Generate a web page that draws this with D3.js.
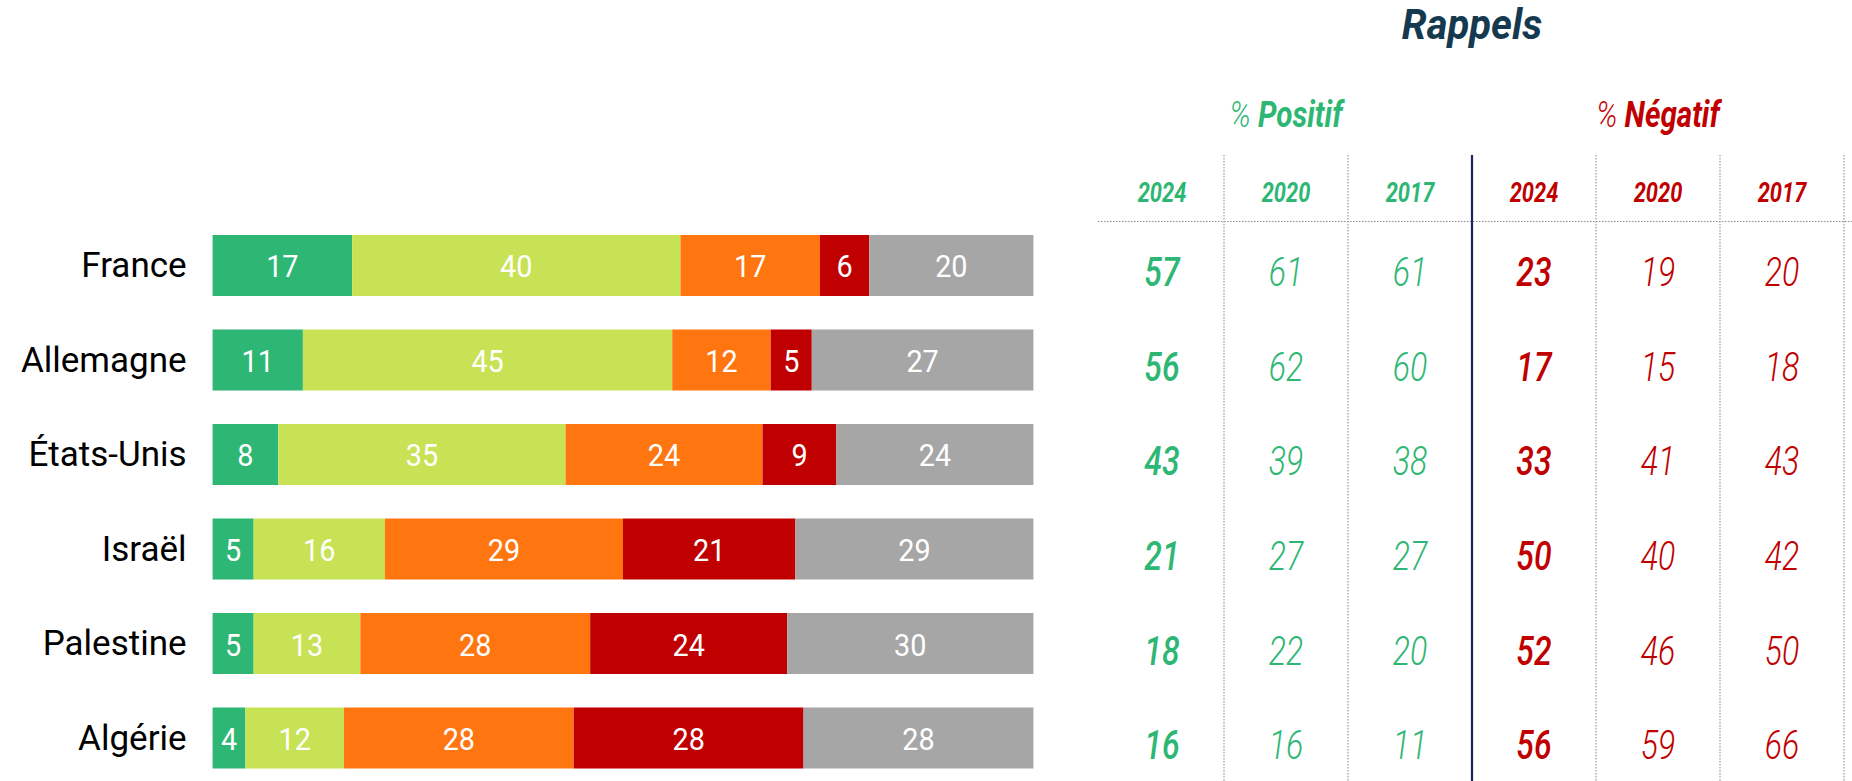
<!DOCTYPE html>
<html lang="fr">
<head>
<meta charset="utf-8">
<script src="https://cdn.jsdelivr.net/npm/d3@7"></script>
<style>
  html, body { margin: 0; padding: 0; background: #ffffff; }
  svg { display: block; }
  .tbl { font-family: Roboto, 'Noto Sans', sans-serif; font-style: italic; }
</style>
</head>
<body>
<svg id="chart" width="1852" height="781"></svg>
<script>
// Pays affichés
const categories = ["France", "Allemagne", "États-Unis", "Israël", "Palestine", "Algérie"];

// Répartition des opinions (en %)
const tresPositif   = [17, 11, 8, 5, 5, 4];
const plutotPositif = [40, 45, 35, 16, 13, 12];
const plutotNegatif = [17, 12, 24, 29, 28, 28];
const tresNegatif   = [6, 5, 9, 21, 24, 28];
const nsp           = [20, 27, 24, 29, 30, 28];

// Rappels : % positif et % négatif par vague
const years = ["2024", "2020", "2017"];
const positif2024 = [57, 56, 43, 21, 18, 16];
const positif2020 = [61, 62, 39, 27, 22, 16];
const positif2017 = [61, 60, 38, 27, 20, 11];
const negatif2024 = [23, 17, 33, 50, 52, 56];
const negatif2020 = [19, 15, 41, 40, 46, 59];
const negatif2017 = [20, 18, 43, 42, 50, 66];

const seriesKeys = ["tresPositif", "plutotPositif", "plutotNegatif", "tresNegatif", "nsp"];
const seriesColors = ["#2eb774", "#c8e256", "#ff7510", "#c00000", "#a6a6a6"];
const GREEN = "#2eb774", RED = "#c00000", NAVY = "#153a50";

const rows = categories.map((c, i) => ({
  pays: c,
  tresPositif: tresPositif[i],
  plutotPositif: plutotPositif[i],
  plutotNegatif: plutotNegatif[i],
  tresNegatif: tresNegatif[i],
  nsp: nsp[i]
}));

const svg = d3.select("#chart");

const x = d3.scaleLinear().domain([0, 100]).range([212.6, 1033.4]);
const y = d3.scaleBand().domain(categories).range([235, 768.5]).paddingInner(0.3545).paddingOuter(0);
const color = d3.scaleOrdinal().domain(seriesKeys).range(seriesColors);

const stacked = d3.stack().keys(seriesKeys)(rows);

const layers = svg.append("g").selectAll("g")
  .data(stacked)
  .join("g")
  .attr("fill", d => color(d.key));

layers.selectAll("rect")
  .data(d => d)
  .join("rect")
  .attr("x", d => x(d[0]))
  .attr("y", d => y(d.data.pays))
  .attr("width", d => x(d[1]) - x(d[0]))
  .attr("height", y.bandwidth());

// Valeurs dans les segments (police légèrement resserrée)
layers.selectAll("g.lbl")
  .data(d => d)
  .join("g")
  .attr("class", "lbl")
  .attr("transform", d => `translate(${(x(d[0]) + x(d[1])) / 2},${y(d.data.pays) + y.bandwidth() / 2 + 12}) scale(0.9,1)`)
  .append("text")
  .attr("text-anchor", "middle")
  .attr("fill", "#ffffff")
  .style("font-family", "Roboto, sans-serif")
  .style("font-size", "32px")
  .text(d => d[1] - d[0]);

// Axe des pays (sans trait)
const yAxis = svg.append("g")
  .attr("transform", `translate(${x(0) - 26},0)`)
  .call(d3.axisLeft(y).tickSize(0).tickPadding(0));
yAxis.select(".domain").remove();
yAxis.selectAll("text")
  .attr("fill", "#000000")
  .attr("dy", "0.34em")
  .style("font-family", "Roboto, sans-serif")
  .style("font-weight", "400")
  .style("font-size", "35px");

// Tableau des rappels
const cols = [
  { key: "p2024", values: positif2024, year: years[0], color: GREEN, strong: true },
  { key: "p2020", values: positif2020, year: years[1], color: GREEN, strong: false },
  { key: "p2017", values: positif2017, year: years[2], color: GREEN, strong: false },
  { key: "n2024", values: negatif2024, year: years[0], color: RED, strong: true },
  { key: "n2020", values: negatif2020, year: years[1], color: RED, strong: false },
  { key: "n2017", values: negatif2017, year: years[2], color: RED, strong: false }
];
const cx = d3.scaleBand().domain(cols.map(c => c.key)).range([1100, 1844]);
const table = svg.append("g");

// Texte condensé : groupe positionné puis compressé horizontalement
function condText(parent, px, py, sx) {
  return parent.append("g")
    .attr("transform", `translate(${px},${py}) scale(${sx},1)`)
    .append("text")
    .attr("class", "tbl")
    .attr("text-anchor", "middle");
}

// Grille
table.append("line")
  .attr("x1", 1098).attr("x2", 1852)
  .attr("y1", 221.5).attr("y2", 221.5)
  .attr("stroke", "#8c8c8c").attr("stroke-width", 1.2).attr("stroke-dasharray", "1.5,1.5");

cols.forEach((c, i) => {
  const xr = cx(c.key) + cx.bandwidth();
  const solid = i === 2;
  table.append("line")
    .attr("x1", xr).attr("x2", xr)
    .attr("y1", 155).attr("y2", 781)
    .attr("stroke", solid ? "#1b2460" : "#9a9a9a")
    .attr("stroke-width", solid ? 2.2 : 1.2)
    .attr("stroke-dasharray", solid ? null : "1.5,1.5");
});

// Titres
condText(table, cx("n2024"), 39, 0.93)
  .attr("fill", NAVY)
  .style("font-size", "43px").style("font-weight", "700")
  .text("Rappels");

const groups = [
  { label: ["%", "Positif"], from: "p2024", to: "p2017", color: GREEN },
  { label: ["%", "Négatif"], from: "n2024", to: "n2017", color: RED }
];
groups.forEach(g => {
  const gx = (cx(g.from) + cx(g.to) + cx.bandwidth()) / 2;
  const t = condText(table, gx, 127, 0.8)
    .attr("fill", g.color)
    .style("font-size", "37px");
  t.append("tspan").style("font-weight", "300").text(g.label[0] + " ");
  t.append("tspan").style("font-weight", "700").text(g.label[1]);
});

cols.forEach(c => {
  const mid = cx(c.key) + cx.bandwidth() / 2;
  condText(table, mid, 201.5, 0.78)
    .attr("fill", c.color)
    .style("font-size", "28px").style("font-weight", "700")
    .text(c.year);

  c.values.forEach((v, i) => {
    condText(table, mid, y(categories[i]) + y.bandwidth() / 2 + 21, 0.8)
      .attr("fill", c.color)
      .style("font-size", "40px")
      .style("font-weight", c.strong ? "500" : "300")
      .text(v);
  });
});
</script>
</body>
</html>
